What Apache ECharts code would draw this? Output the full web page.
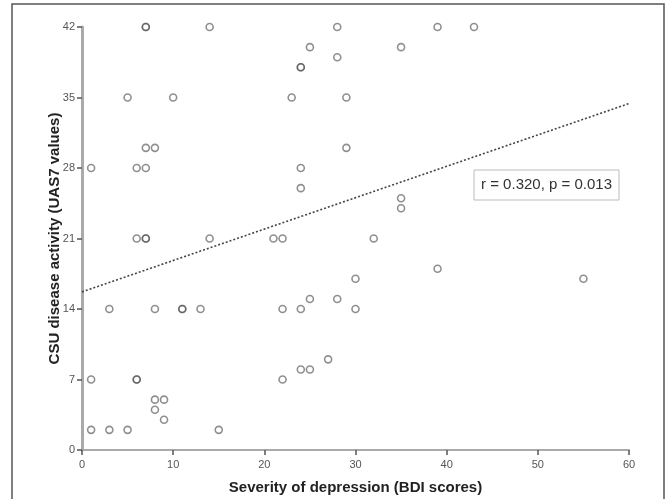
<!DOCTYPE html>
<html>
<head>
<meta charset="utf-8">
<script src="https://cdn.jsdelivr.net/npm/echarts@6/dist/echarts.min.js"></script>
<style>
html,body{margin:0;padding:0;background:#fff;}
#chart{width:667px;height:499px;}
</style>
</head>
<body>
<div id="chart"></div>
<script>
// BDI scores (x) and UAS7 values (y)
const bdiScores = [7,7,14,28,39,43, 25,35, 28, 24,24, 5,10,23,29, 7,8,29, 1,6,7,24, 24, 35, 35,
  6,7,7,14,21,22,32, 39, 30,55, 25,28, 3,8,11,11,13,22,24,30, 27, 24,25, 1,6,6,22, 8,9, 8, 9, 1,3,5,15];
const uas7Values = [42,42,42,42,42,42, 40,40, 39, 38,38, 35,35,35,35, 30,30,30, 28,28,28,28, 26, 25, 24,
  21,21,21,21,21,21,21, 18, 17,17, 15,15, 14,14,14,14,14,14,14,14, 9, 8,8, 7,7,7,7, 5,5, 4, 3, 2,2,2,2];
const fitLineX = [0, 60];
const fitLineY = [15.7, 34.4];
const xTicks = [0, 10, 20, 30, 40, 50, 60];
const yTicks = [0, 7, 14, 21, 28, 35, 42];
const annotationText = 'r = 0.320, p = 0.013';
const xTitle = 'Severity of depression (BDI scores)';
const yTitle = 'CSU disease activity (UAS7 values)';

const points = bdiScores.map((x, i) => [x, uas7Values[i]]);
const fitLine = fitLineX.map((x, i) => [x, fitLineY[i]]);

const chart = echarts.init(document.getElementById('chart'), null, {renderer: 'canvas'});
const font = '"Liberation Sans", Arial, sans-serif';
chart.setOption({
  animation: false,
  backgroundColor: '#fff',
  grid: {left: 82, right: 38, top: 27, bottom: 49, containLabel: false, outerBoundsMode: 'none'},
  xAxis: {
    type: 'value', min: xTicks[0], max: xTicks[xTicks.length - 1], interval: 10,
    name: xTitle, nameLocation: 'middle', nameGap: 30, nameMoveOverlap: false,
    nameTextStyle: {fontFamily: font, fontSize: 15, fontWeight: 'bold', color: '#222', verticalAlign: 'top'},
    axisLine: {show: true, lineStyle: {color: '#aaa', width: 2}},
    axisTick: {show: true, length: 5, lineStyle: {color: '#555', width: 1.5}},
    axisLabel: {fontFamily: font, fontSize: 11, color: '#555', margin: 9},
    splitLine: {show: false}
  },
  yAxis: {
    type: 'value', min: yTicks[0], max: yTicks[yTicks.length - 1], interval: 7,
    name: yTitle, nameLocation: 'middle', nameGap: 20, nameRotate: 90, nameMoveOverlap: false,
    nameTextStyle: {fontFamily: font, fontSize: 15, fontWeight: 'bold', color: '#222'},
    axisLine: {show: true, lineStyle: {color: '#aaa', width: 3}},
    axisTick: {show: true, length: 5, lineStyle: {color: '#555', width: 1.5}},
    axisLabel: {fontFamily: font, fontSize: 11, color: '#555', margin: 7},
    splitLine: {show: false}
  },
  series: [
    {
      type: 'line', data: fitLine, symbol: 'none', silent: true,
      lineStyle: {color: '#444', width: 1.6, type: [2, 2]}
    },
    {
      type: 'scatter', data: points, symbol: 'circle', symbolSize: 7,
      itemStyle: {color: 'rgba(255,255,255,0)', borderColor: 'rgba(80,80,80,0.8)', borderWidth: 1.6}
    }
  ],
  graphic: [
    {type: 'rect', shape: {x: 12, y: 4, width: 652, height: 510},
     style: {fill: 'none', stroke: '#555', lineWidth: 1.5}, silent: true},
    {type: 'rect', shape: {x: 474, y: 170, width: 145, height: 30},
     style: {fill: '#fff', stroke: '#bbb', lineWidth: 1}, silent: true, z: 10},
    {type: 'text', x: 546.5, y: 185, z: 11,
     style: {text: annotationText, font: '15px ' + font, fill: '#333', align: 'center', verticalAlign: 'middle'}}
  ]
});
</script>
</body>
</html>
